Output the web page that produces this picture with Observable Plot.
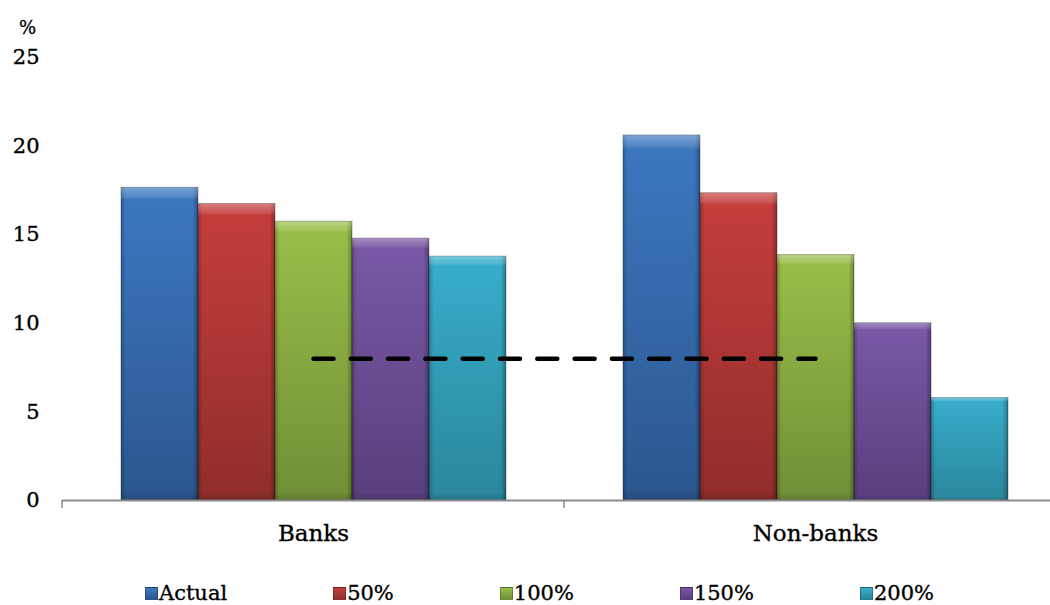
<!DOCTYPE html>
<html>
<head>
<meta charset="utf-8">
<script src="https://cdn.jsdelivr.net/npm/d3@7"></script>
<script src="https://cdn.jsdelivr.net/npm/@observablehq/plot@0.6"></script>
<style>
html, body { margin: 0; padding: 0; background: #fff; overflow: hidden; width: 1050px; height: 605px; }
#wrap { position: relative; width: 1050px; height: 605px; font-family: "DejaVu Serif", serif; color: #000; overflow: hidden; }
#wrap svg { position: absolute; left: 0; top: 0; max-width: none !important; }
#wrap svg text { paint-order: stroke; stroke: #000; stroke-width: 0.35px; }
#unit { position: absolute; left: 19px; top: 19px; font-size: 18px; line-height: 18px; -webkit-text-stroke: 0.3px #000; }
#legend { position: absolute; top: 583px; left: 145px; display: flex; gap: 106px; font-size: 21px; line-height: 21px; white-space: nowrap; -webkit-text-stroke: 0.35px #000; }
#legend .sw { display: inline-block; width: 13px; height: 13px; margin-right: 1px; box-sizing: border-box; }
</style>
</head>
<body>
<div id="wrap">
  <div id="chart"></div>
  <div id="unit">%</div>
  <div id="legend"></div>
</div>
<script>
// ---- data ----
const categories = ["Banks", "Non-banks"];
const series = ["Actual", "50%", "100%", "150%", "200%"];
const banksValues = [17.65, 16.73, 15.73, 14.78, 13.76];
const nonBanksValues = [20.6, 17.34, 13.85, 10.0, 5.78];
const yTicks = [0, 5, 10, 15, 20, 25];
const thresholdValue = 8;

// ---- styles ----
const topColors = ["#3c78c0", "#c63e3c", "#9abf49", "#7a58a6", "#38aecb"];
const bottomColors = ["#2c5790", "#902e2b", "#718f37", "#593f7e", "#2a869c"];

const data = categories.flatMap((c, i) =>
  series.map((s, j) => ({category: c, series: s, value: (i === 0 ? banksValues : nonBanksValues)[j]}))
);

const W = 1066, H = 560, mL = 62, mT = 57, mB = 60;

const main = Plot.plot({
  width: W, height: H,
  marginLeft: mL, marginRight: 0, marginTop: mT, marginBottom: mB,
  style: {fontFamily: '"DejaVu Serif", serif', color: "#000", background: "transparent", overflow: "visible", maxWidth: "none"},
  fx: {domain: categories, padding: 0, label: null},
  x: {domain: series, paddingInner: 0, paddingOuter: 0.75, axis: null},
  y: {domain: [0, 25], axis: null},
  color: {domain: series, range: series.map((s, i) => `url(#grad-${i})`)},
  marks: [
    Plot.barY(data, {fx: "category", x: "series", y: "value", fill: "series", stroke: "rgba(0,0,0,0.3)", strokeWidth: 1}),
    Plot.barY(data, {fx: "category", x: "series", y: "value", fill: "url(#hbevel)"}),
    Plot.barY(data, {fx: "category", x: "series", y: "value", fill: "url(#vbevel)"}),
    Plot.ruleY([0], {stroke: "#8c8c8c", strokeWidth: 2}),
    Plot.axisY({ticks: yTicks, tickSize: 0, tickPadding: 23, fontSize: 21, label: null, anchor: "left"}),
    Plot.axisFx({anchor: "bottom", tickSize: 0, tickPadding: 24, fontSize: 23, label: null})
  ]
});

const defs = d3.select(main).append("defs");
series.forEach((s, i) => {
  const g = defs.append("linearGradient").attr("id", `grad-${i}`).attr("x1", 0).attr("y1", 0).attr("x2", 0).attr("y2", 1);
  g.append("stop").attr("offset", "0%").attr("stop-color", topColors[i]);
  g.append("stop").attr("offset", "100%").attr("stop-color", bottomColors[i]);
});
const hb = defs.append("linearGradient").attr("id", "hbevel").attr("x1", 0).attr("y1", 0).attr("x2", 1).attr("y2", 0);
[[0, "#000", 0.22], [0.06, "#000", 0], [0.93, "#000", 0], [1, "#000", 0.3]].forEach(([o, c, a]) =>
  hb.append("stop").attr("offset", o).attr("stop-color", c).attr("stop-opacity", a));
const vb = defs.append("linearGradient").attr("id", "vbevel").attr("x1", 0).attr("y1", 0).attr("x2", 0).attr("y2", 1);
[[0, "#fff", 0.32], [0.03, "#fff", 0.12], [0.04, "#fff", 0], [0.97, "#000", 0], [1, "#000", 0.15]].forEach(([o, c, a]) =>
  vb.append("stop").attr("offset", o).attr("stop-color", c).attr("stop-opacity", a));

const overlay = Plot.plot({
  width: W, height: H,
  marginLeft: mL, marginRight: 0, marginTop: mT, marginBottom: mB,
  style: {background: "transparent", overflow: "visible", maxWidth: "none"},
  x: {type: "point", domain: categories, padding: 0.5, axis: null},
  y: {domain: [0, 25], axis: null},
  marks: [
    Plot.lineY(categories.map(c => ({category: c, value: thresholdValue})),
      {x: "category", y: "value", stroke: "#000", strokeWidth: 4.5, strokeDasharray: "20,17.3"})
  ]
});
// boundary tick marks on the category axis, from the library's own scales
const sx = overlay.scale("x"), sy = overlay.scale("y");
const y0 = sy.apply(0);
const bounds = [sx.apply(categories[0]) - sx.step / 2, ...categories.map(c => sx.apply(c) + sx.step / 2)];
d3.select(overlay).append("g").selectAll("line").data(bounds).join("line")
  .attr("x1", d => d).attr("x2", d => d).attr("y1", y0).attr("y2", y0 + 8)
  .attr("stroke", "#8c8c8c").attr("stroke-width", 1.5);

const chart = document.getElementById("chart");
chart.appendChild(main);
chart.appendChild(overlay);

// legend
const legend = d3.select("#legend");
series.forEach((s, i) => {
  const item = legend.append("div");
  item.append("span").attr("class", "sw")
    .style("background", `linear-gradient(${topColors[i]}, ${bottomColors[i]})`)
    .style("border", "1px solid rgba(0,0,0,0.25)");
  item.append("span").text(s);
});
</script>
</body>
</html>
